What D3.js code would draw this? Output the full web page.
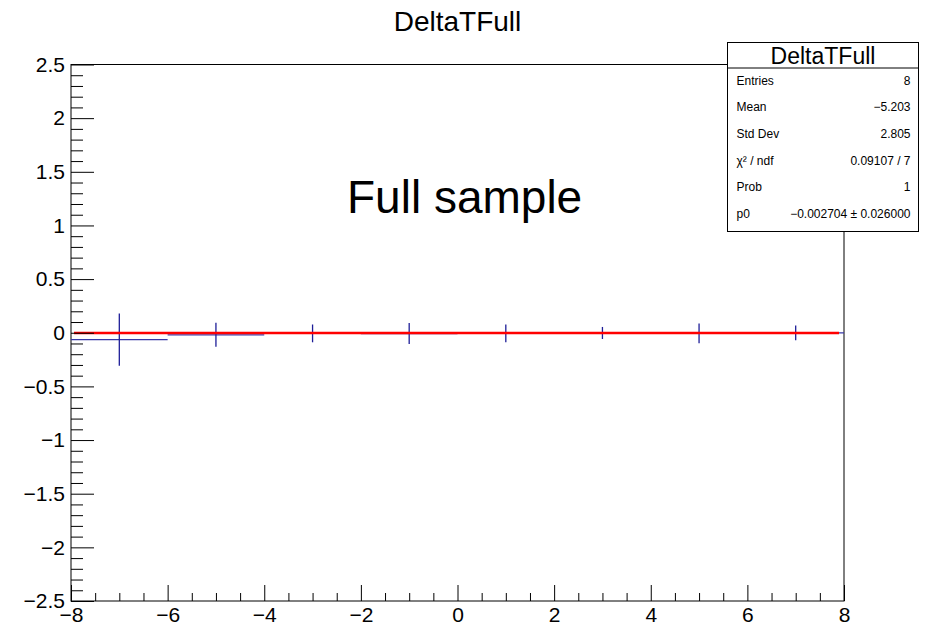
<!DOCTYPE html>
<html>
<head>
<meta charset="utf-8">
<script src="https://cdn.jsdelivr.net/npm/d3@7"></script>
<style>
	body { margin: 0; background: #fff; }
	svg text { font-family: "Liberation Sans", Arial, Helvetica, sans-serif; }
</style>
</head>
<body>
<script>
// ヒストグラムのデータ(ビン境界・中心値・誤差)
var binLow    = [-8, -6, -4, -2, 0, 2, 4, 6];
var binHigh   = [-6, -4, -2, 0, 2, 4, 6, 8];
var binValues = [-0.064, -0.019, -0.006, -0.008, -0.005, -0.002, -0.006, -0.002];
var binErrors = [0.243, 0.112, 0.083, 0.098, 0.083, 0.056, 0.093, 0.069];

// フィット結果(定数 p0)
var fitRange = [-8, 8];
var fitP0 = -0.002704;

// 軸の目盛り
var xMajor = [-8, -6, -4, -2, 0, 2, 4, 6, 8];
var xMinor = [-7.5, -7, -6.5, -5.5, -5, -4.5, -3.5, -3, -2.5, -1.5, -1, -0.5, 0.5, 1, 1.5, 2.5, 3, 3.5, 4.5, 5, 5.5, 6.5, 7, 7.5];
var yMajor = [-2.5, -2, -1.5, -1, -0.5, 0, 0.5, 1, 1.5, 2, 2.5];
var yMinor = d3.range(-25, 26).map(function(d){ return d / 10; })
	.filter(function(d){ return Math.abs(d * 2 - Math.round(d * 2)) > 1e-6; });

// 統計ボックスのテキスト
var statLabels = ["Entries", "Mean", "Std Dev", "\u03c7\u00b2 / ndf", "Prob", "p0"];
var statValues = ["8", "\u22125.203", "2.805", "0.09107 / 7", "1", "\u22120.002704 \u00b1 0.026000"];

var chartTitle = "DeltaTFull";
var note = "Full sample";

// 描画領域
var W = 929, H = 627;
var margin = {top: 64.5, right: 85, bottom: 26, left: 71},
	width = W - margin.left - margin.right,
	height = H - margin.top - margin.bottom;

var svg = d3.select("body").append("svg")
	.attr("width", W)
	.attr("height", H);

var xScale = d3.scaleLinear().domain([-8, 8]).range([0, width]);
var yScale = d3.scaleLinear().domain([-2.5, 2.5]).range([height, 0]);

// タイトル
svg.append("text")
	.attr("x", margin.left + width / 2)
	.attr("y", 31)
	.attr("text-anchor", "middle")
	.style("font-size", "28px")
	.text(chartTitle);

var g = svg.append("g")
	.attr("transform", "translate(" + margin.left + "," + margin.top + ")");

// 枠
g.append("rect")
	.attr("x", 0).attr("y", 0)
	.attr("width", width).attr("height", height)
	.attr("fill", "none")
	.attr("stroke", "#000")
	.attr("stroke-width", 1);

// ヒストグラム(水平線 + 誤差棒)
var bins = g.append("g").attr("class", "bins");
binValues.forEach(function(v, i){
	var xc = xScale((binLow[i] + binHigh[i]) / 2);
	bins.append("line")
		.attr("x1", xScale(binLow[i])).attr("x2", xScale(binHigh[i]))
		.attr("y1", yScale(v)).attr("y2", yScale(v))
		.attr("stroke", "#3838a8").attr("stroke-width", 1.2);
	bins.append("line")
		.attr("x1", xc).attr("x2", xc)
		.attr("y1", yScale(v - binErrors[i])).attr("y2", yScale(v + binErrors[i]))
		.attr("stroke", "#1e1e98").attr("stroke-width", 1.3);
});

// フィット線
g.append("line")
	.attr("x1", xScale(fitRange[0]) + 3).attr("x2", xScale(fitRange[1]) - 5)
	.attr("y1", yScale(fitP0)).attr("y2", yScale(fitP0))
	.attr("stroke", "#ff0000")
	.attr("stroke-width", 2.6);

// Y軸(目盛りは内向き)
g.append("g")
	.call(d3.axisLeft(yScale).tickValues(yMinor).tickSize(-12).tickFormat(""))
	.call(function(s){ s.select(".domain").remove(); });
g.append("g")
	.call(d3.axisLeft(yScale).tickValues(yMajor).tickSize(-23).tickPadding(6).tickFormat(d3.format("~g")))
	.call(function(s){ s.select(".domain").remove(); })
	.selectAll("text")
	.style("font-size", "21px")
	.attr("fill", "#000");

// X軸
g.append("g")
	.attr("transform", "translate(0," + height + ")")
	.call(d3.axisBottom(xScale).tickValues(xMinor).tickSize(-8).tickFormat(""))
	.call(function(s){ s.select(".domain").remove(); });
g.append("g")
	.attr("transform", "translate(0," + height + ")")
	.call(d3.axisBottom(xScale).tickValues(xMajor).tickSize(-16).tickPadding(6).tickFormat(d3.format("~g")))
	.call(function(s){ s.select(".domain").remove(); })
	.selectAll("text")
	.style("font-size", "21px")
	.attr("fill", "#000");

g.selectAll(".tick line").attr("stroke", "#000");

// 注記
svg.append("text")
	.attr("x", 347)
	.attr("y", 213)
	.style("font-size", "46px")
	.text(note);

// 統計ボックス
var box = {x: 727.5, y: 42.5, w: 191, h: 189, head: 25.5};
var stats = svg.append("g").attr("transform", "translate(" + box.x + "," + box.y + ")");
stats.append("rect")
	.attr("width", box.w).attr("height", box.h)
	.attr("fill", "#fff").attr("stroke", "#000").attr("stroke-width", 1);
stats.append("line")
	.attr("x1", 0).attr("x2", box.w)
	.attr("y1", box.head).attr("y2", box.head)
	.attr("stroke", "#000").attr("stroke-width", 1);
stats.append("text")
	.attr("x", box.w / 2).attr("y", 21)
	.attr("text-anchor", "middle")
	.style("font-size", "23px")
	.text(chartTitle);
statLabels.forEach(function(label, i){
	var yy = 42 + i * 26.7;
	stats.append("text")
		.attr("x", 9).attr("y", yy)
		.style("font-size", "12px")
		.text(label);
	stats.append("text")
		.attr("x", box.w - 8).attr("y", yy)
		.attr("text-anchor", "end")
		.style("font-size", "12px")
		.text(statValues[i]);
});
</script>
</body>
</html>
